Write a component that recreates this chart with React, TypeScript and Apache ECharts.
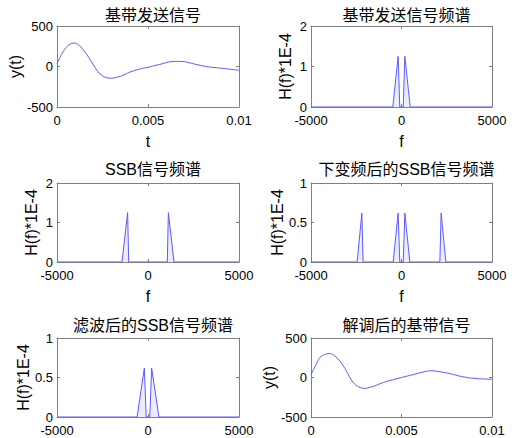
import React, { useEffect, useRef } from "react";
import * as echarts from "echarts";

// ---- data ----
const tValues = [
  0, 0.00025, 0.0005, 0.00075, 0.001, 0.00125, 0.0015, 0.00175, 0.002, 0.00225,
  0.0025, 0.00275, 0.003, 0.00325, 0.0035, 0.00375, 0.004, 0.00425, 0.0045, 0.00475,
  0.005, 0.00525, 0.0055, 0.00575, 0.006, 0.00625, 0.0065, 0.00675, 0.007, 0.00725,
  0.0075, 0.00775, 0.008, 0.00825, 0.0085, 0.00875, 0.009, 0.00925, 0.0095, 0.00975, 0.01,
];
const sentSignal = [
  35, 150, 235, 280, 290, 255, 190, 110, 20, -65,
  -115, -140, -145, -135, -120, -95, -70, -50, -35, -20,
  -10, 5, 18, 32, 48, 60, 63, 63, 60, 48,
  33, 20, 8, -3, -10, -15, -20, -27, -33, -40, -48,
];
const demodSignal = [
  40, 150, 255, 290, 305, 285, 235, 160, 65, -40,
  -100, -130, -138, -125, -108, -85, -62, -45, -30, -15,
  0, 15, 28, 43, 58, 72, 84, 85, 78, 68,
  58, 45, 30, 15, 5, -5, -10, -15, -18, -20, -22,
];

const basebandF = [-5000, -480, -185, -95, 0, 95, 185, 480, 5000];
const basebandH = [0, 0, 1.25, 0, 0, 0, 1.25, 0, 0];

const ssbF = [-5000, -1430, -1120, -1060, 0, 1060, 1120, 1430, 5000];
const ssbH = [0, 0, 1.25, 0, 0, 0, 1.25, 0, 0];

const downF = [-5000, -2450, -2190, -2120, -460, -185, -95, 0, 95, 185, 460, 2120, 2190, 2450, 5000];
const downH = [0, 0, 0.62, 0, 0, 0.62, 0, 0, 0, 0.62, 0, 0, 0.62, 0, 0];

const filteredF = [-5000, -600, -200, -100, 0, 100, 200, 600, 5000];
const filteredH = [0, 0, 0.62, 0, 0, 0, 0.62, 0, 0];

const panelTitles = [
  "基带发送信号",
  "基带发送信号频谱",
  "SSB信号频谱",
  "下变频后的SSB信号频谱",
  "滤波后的SSB信号频谱",
  "解调后的基带信号",
];

const zip = (xs: number[], ys: number[]) => xs.map((x, i) => [x, ys[i]]);

type Panel = {
  left: number; top: number; width: number; height: number;
  titleTop: number;
  xMin: number; xMax: number; xInt: number;
  yMin: number; yMax: number; yInt: number;
  xName: string; yName: string; yGap: number;
  data: number[][]; spectrum: boolean;
};

const LINE = "#5a5aff";
const AXIS = "#808080";
const LATIN = "'Liberation Sans', Arial, 'Noto Sans CJK SC', sans-serif";

export default function App() {
  const ref = useRef<HTMLDivElement>(null);
  useEffect(() => {
    if (!ref.current) return;
    const chart = echarts.init(ref.current, undefined, { renderer: "svg" });

    const panels: Panel[] = [
      { left: 57, top: 26, width: 182, height: 81, titleTop: 2, xMin: 0, xMax: 0.01, xInt: 0.005, yMin: -500, yMax: 500, yInt: 500, xName: "t", yName: "y(t)", yGap: 34, data: zip(tValues, sentSignal), spectrum: false },
      { left: 311, top: 26, width: 181, height: 81, titleTop: 2, xMin: -5000, xMax: 5000, xInt: 5000, yMin: 0, yMax: 2, yInt: 1, xName: "f", yName: "H(f)*1E-4", yGap: 18, data: zip(basebandF, basebandH), spectrum: true },
      { left: 57, top: 183, width: 182, height: 79, titleTop: 156, xMin: -5000, xMax: 5000, xInt: 5000, yMin: 0, yMax: 2, yInt: 1, xName: "f", yName: "H(f)*1E-4", yGap: 18, data: zip(ssbF, ssbH), spectrum: true },
      { left: 311, top: 183, width: 181, height: 79, titleTop: 156, xMin: -5000, xMax: 5000, xInt: 5000, yMin: 0, yMax: 1, yInt: 0.5, xName: "f", yName: "H(f)*1E-4", yGap: 18, data: zip(downF, downH), spectrum: true },
      { left: 57, top: 338, width: 182, height: 79, titleTop: 312, xMin: -5000, xMax: 5000, xInt: 5000, yMin: 0, yMax: 1, yInt: 0.5, xName: "", yName: "H(f)*1E-4", yGap: 18, data: zip(filteredF, filteredH), spectrum: true },
      { left: 311, top: 338, width: 181, height: 79, titleTop: 312, xMin: 0, xMax: 0.01, xInt: 0.005, yMin: -500, yMax: 500, yInt: 500, xName: "", yName: "y(t)", yGap: 34, data: zip(tValues, demodSignal), spectrum: false },
    ];

    const grid: any[] = [];
    const xAxis: any[] = [];
    const yAxis: any[] = [];
    const series: any[] = [];
    const title: any[] = [];

    const axisLine = { show: true, onZero: false, lineStyle: { color: AXIS, width: 1 } };
    const axisTick = { show: true, inside: true, length: 3, lineStyle: { color: AXIS } };
    const label = {
      color: "#000", fontSize: 13, fontFamily: LATIN, lineHeight: 11,
      formatter: (v: number) => String(v),
    };

    panels.forEach((p, i) => {
      grid.push({ left: p.left, top: p.top, width: p.width, height: p.height, containLabel: false });
      title.push({
        text: panelTitles[i],
        left: p.left + p.width / 2,
        top: p.titleTop,
        textAlign: "center",
        textStyle: { fontSize: 16, fontWeight: "normal", color: "#000", fontFamily: LATIN },
      });
      xAxis.push({
        type: "value", gridIndex: i, position: "bottom",
        min: p.xMin, max: p.xMax, interval: p.xInt,
        axisLine, axisTick, splitLine: { show: false },
        axisLabel: { ...label, margin: 8 },
        name: p.xName, nameLocation: "middle", nameGap: 26,
        nameTextStyle: { color: "#000", fontSize: 16, fontFamily: LATIN },
      });
      xAxis.push({
        type: "value", gridIndex: i, position: "top",
        min: p.xMin, max: p.xMax, interval: p.xInt,
        axisLine, axisTick, splitLine: { show: false },
        axisLabel: { show: false },
      });
      yAxis.push({
        type: "value", gridIndex: i, position: "left",
        min: p.yMin, max: p.yMax, interval: p.yInt,
        axisLine, axisTick, splitLine: { show: false },
        axisLabel: { ...label, margin: 4 },
        name: p.yName, nameLocation: "middle", nameGap: p.yGap,
        nameTextStyle: { color: "#000", fontSize: 16, fontFamily: LATIN },
      });
      yAxis.push({
        type: "value", gridIndex: i, position: "right",
        min: p.yMin, max: p.yMax, interval: p.yInt,
        axisLine, axisTick, splitLine: { show: false },
        axisLabel: { show: false },
      });
      series.push({
        type: "line",
        xAxisIndex: 2 * i,
        yAxisIndex: 2 * i,
        data: p.data,
        showSymbol: false,
        smooth: p.spectrum ? false : 0.3,
        lineStyle: { color: LINE, width: 1 },
        areaStyle: p.spectrum ? { color: "rgba(130,130,255,0.22)", origin: "start" } : undefined,
        clip: true,
      });
    });

    chart.setOption({
      animation: false,
      backgroundColor: "#fff",
      title,
      grid,
      xAxis,
      yAxis,
      series,
    });
    return () => chart.dispose();
  }, []);

  return (
    <div
      ref={ref}
      style={{ position: "fixed", left: 0, top: 0, width: 522, height: 438, background: "#fff" }}
    />
  );
}
